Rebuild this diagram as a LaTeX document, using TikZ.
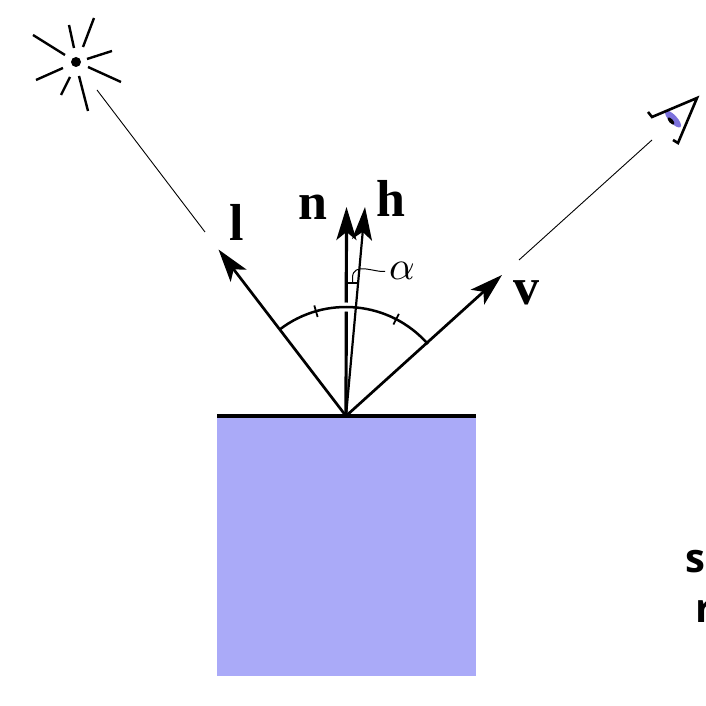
\documentclass[tikz,border=0pt]{standalone}
\usepackage{fontspec}
\setmainfont{Liberation Serif}
\newfontfamily\capfont{Open Sans}
\usetikzlibrary{arrows.meta,calc}
\definecolor{blockfill}{HTML}{AAAAF8}
\definecolor{irisc}{HTML}{7C72DC}
\tikzset{
  vec/.style={line width=2.7pt,-{Stealth[length=33pt,width=20pt,inset=8pt]}},
  thinline/.style={line width=0.9pt},
  veclabel/.style={font=\fontsize{52}{52}\selectfont\bfseries,inner sep=0pt},
  cliplabel/.style={font=\capfont\fontsize{40}{40}\selectfont\bfseries,inner sep=0pt,anchor=base west},
  markline/.style={line width=1.8pt}
}
\begin{document}
\begin{tikzpicture}[x=1pt,y=1pt]
\useasboundingbox (0,0) rectangle (706,706);
% surface
\fill[blockfill] (217,30) rectangle (476,290);
\coordinate (o) at (346,290);
\coordinate (sfl) at (217,289.7);
\coordinate (sfr) at (476,289.7);
\draw[line width=3.6pt] (sfl) -- (sfr);
% normal
\coordinate (ntip) at (346.5,499);
\coordinate (htip) at (365,499);
\coordinate (ltip) at (218.5,456.5);
\coordinate (vtip) at (502,431);
\draw[vec,line width=3.2pt] (o) -- (ntip);
% arc
\draw[white,line width=9pt] ($(o)+(80:109pt)$) arc[start angle=80,end angle=100,radius=109pt];
\draw[line width=2.5pt] ($(o)+(127.5:109pt)$) arc[start angle=127.5,end angle=41.3,radius=109pt];
\draw[markline] ($(o)+(106:103pt)$) -- ($(o)+(106:115pt)$);
\draw[markline] ($(o)+(62.6:103pt)$) -- ($(o)+(62.6:115pt)$);
% other vectors
\draw[vec,line width=2.2pt] (o) -- (htip);
\draw[vec] (o) -- (ltip);
\draw[vec] (o) -- (vtip);
% angle mark
\coordinate (ma) at (347,423);
\coordinate (mb) at (359,423);
\draw[markline] (ma) -- (mb);
\coordinate (la) at (352.5,423);
\node[inner sep=0pt,scale=4] (alpha) at (402,435) {$\alpha$};
\draw[line width=1pt] (la) -- (352.5,429) .. controls (353,436) and (358,438) .. (366,437) .. controls (374,436) and (380,434) .. (385,434.5);
% labels
\node[veclabel,anchor=base] (nl) at (313,486) {n};
\node[veclabel,anchor=base] (hl) at (391,489) {h};
\node[veclabel,anchor=base] (ll) at (237,465) {l};
\node[veclabel,anchor=base] (vl) at (526,401) {v};
% light
\coordinate (sun) at (76,644);
\fill (sun) circle (5pt);
\foreach \a/\b/\c/\d in {33/671/65/651, 69/681/74/658, 94/688/83/659, 112/655/87/647, 88/639/121/624, 79/630/88/595, 70/629/61/611, 63/638/36/626}
  \draw[line width=2.4pt] (\a,\b) -- (\c,\d);
\coordinate (la1) at (97,616);
\coordinate (la2) at (205,474);
\draw[thinline] (la1) -- (la2);
% eye
\coordinate (ve1) at (652,566);
\coordinate (ve2) at (519,446);
\draw[thinline] (ve1) -- (ve2);
\fill[irisc,rotate around={-47:(673,587)}] (673,587) ellipse (11pt and 4pt);
\fill[black,rotate around={-47:(671,585)}] (671,585) ellipse (4.5pt and 2pt);
\draw[line width=2.6pt,line join=miter] (648,594) -- (652,589) -- (697,608) -- (678,563) -- (673,566);
% clipped captions
\node[cliplabel] (c1) at (685,133) {sp};
\node[cliplabel] (c2) at (695,83) {r};
\end{tikzpicture}
\end{document}
